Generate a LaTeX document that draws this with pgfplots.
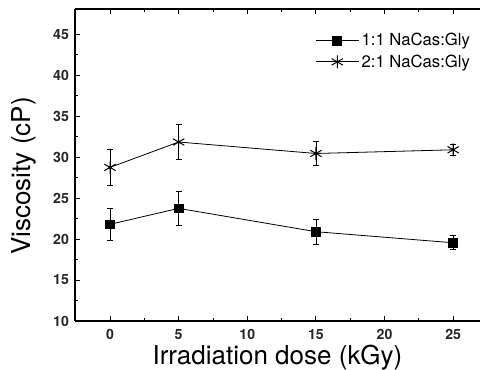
\documentclass[border=0pt]{standalone}
\usepackage{pgfplots}
\pgfplotsset{compat=1.18}
\usepackage{fontspec}
\setmainfont{TeX Gyre Heros}
\begin{document}
\begin{tikzpicture}
\useasboundingbox (-56.25pt,-36.75pt) rectangle (303.75pt,240.75pt);
\clip (-56.25pt,-36.75pt) rectangle (303.75pt,240.75pt);
\begin{axis}[
  at={(0,0)}, anchor=south west,
  width=303.75pt, height=234pt, scale only axis,
  xmin=-2.55, xmax=26.95, ymin=10, ymax=48.09,
  axis x line=box, axis y line*=left,
  axis line style={line width=0.9pt},
  xtick={0,5,...,25}, ytick={10,15,...,45},
  minor x tick num=1, minor y tick num=1,
  tick align=inside,
  major tick length=3.75pt, minor tick length=2.2pt,
  every tick/.style={black, line width=0.7pt},
  /pgf/number format/assume math mode=true,
  tick label style={font=\bfseries\fontsize{10.6}{12}\selectfont, text=black!85},
  xticklabel style={yshift=-3pt},
  yticklabel style={xshift=-1pt},
  xlabel={Irradiation dose (kGy)},
  ylabel={Viscosity (cP)},
  label style={font=\fontsize{19.5}{22}\selectfont},
  xlabel style={at={(axis description cs:0.5,-0.140)}, anchor=base},
  ylabel style={at={(axis description cs:-0.126,0.465)}, anchor=center},
  legend style={draw=none, fill=none, at={(axis description cs:0.59,0.935)}, anchor=north west,
    font=\fontsize{12.5}{14}\selectfont, row sep=1pt, inner sep=1pt},
  legend cell align=left,
  legend image code/.code={\draw[mark repeat=2,mark phase=2] plot coordinates {(0pt,0pt) (16pt,0pt) (32pt,0pt)};},
]
\addplot[black, line width=0.6pt, mark=square*, mark size=3.3pt,
  error bars/.cd, y dir=both, y explicit,
  error bar style={line width=0.6pt, solid},
  error mark options={rotate=90, mark size=2.3pt, line width=0.6pt}]
  coordinates {
  (0,21.8) +- (0,2.0)
  (5,23.75) +- (0,2.05)
  (15,20.9) +- (0,1.55)
  (25,19.55) +- (0,0.85)
  };
\addlegendentry{1:1 NaCas:Gly}
\addplot[black, line width=0.6pt, mark=asterisk, mark size=4.9pt, mark options={line width=0.75pt},
  error bars/.cd, y dir=both, y explicit,
  error bar style={line width=0.6pt, solid},
  error mark options={rotate=90, mark size=2.3pt, line width=0.6pt}]
  coordinates {
  (0,28.75) +- (0,2.15)
  (5,31.85) +- (0,2.15)
  (15,30.45) +- (0,1.5)
  (25,30.9) +- (0,0.7)
  };
\addlegendentry{2:1 NaCas:Gly}
\addplot[only marks, mark=*, mark size=1pt, black, forget plot]
  coordinates {(0,28.75) (5,31.85) (15,30.45) (25,30.9)};
\end{axis}
\end{tikzpicture}
\end{document}
